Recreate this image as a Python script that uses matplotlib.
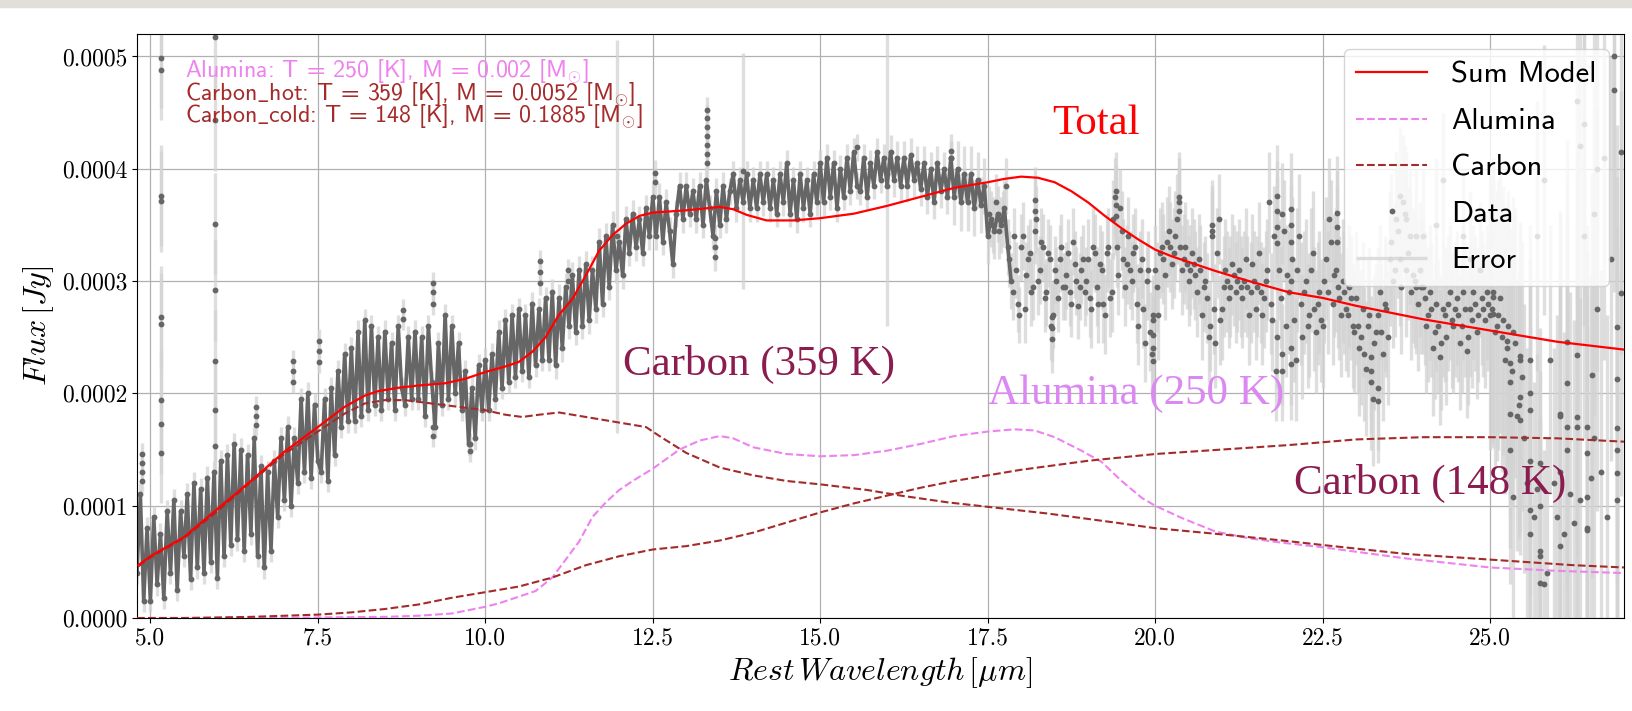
import numpy as np
import matplotlib
matplotlib.use("Agg")
import matplotlib.pyplot as plt
from matplotlib.ticker import FormatStrFormatter, MultipleLocator
from matplotlib.patches import Rectangle

plt.rcParams['mathtext.fontset'] = 'cm'
plt.rcParams['font.family'] = 'cmr10'
plt.rcParams['axes.formatter.use_mathtext'] = True

SCALE = 1e-4  # all flux lists below are in units of 1e-4 Jy

# --- observed spectrum, sampled every 0.05 um starting at 4.80 um ---
wave_start, wave_step = 4.80, 0.05
flux_rows = [
    [0.40, 1.10, 0.15, 0.80],
    [0.15, 0.90, 0.30, 0.75, 0.18, 0.95, 0.40, 1.05, 0.25, 0.95, 0.55, 1.10, 0.35, 1.20, 0.45, 1.15, 0.40, 1.25, 0.50, 1.30],
    [0.36, 1.40, 0.55, 1.45, 0.65, 1.55, 0.70, 1.50, 0.60, 1.45, 0.75, 1.60, 0.55, 1.35, 0.45, 1.30, 0.60, 1.40, 0.90, 1.60],
    [1.05, 1.70, 1.00, 1.60, 1.20, 1.95, 1.30, 2.00, 1.25, 1.90, 1.40, 1.30, 1.95, 1.22, 2.05, 1.45, 2.20, 1.70, 2.35, 1.75],
    [2.40, 1.75, 2.55, 1.80, 2.65, 1.85, 2.60, 1.90, 2.50, 1.85, 2.55, 1.95, 2.45, 1.85, 2.60, 2.05, 1.90, 2.50, 1.95, 2.55],
    [1.95, 2.50, 1.80, 2.60, 2.10, 1.70, 2.45, 1.90, 2.70, 1.95, 2.60, 2.00, 2.45, 1.85, 2.20, 1.55, 2.05, 1.60, 2.25, 1.85],
    [2.30, 1.85, 2.35, 1.95, 2.55, 2.05, 2.65, 2.10, 2.70, 2.15, 2.75, 2.20, 2.70, 2.15, 2.80, 2.25, 2.75, 2.30, 2.85, 2.30],
    [2.90, 2.25, 2.85, 2.40, 2.95, 2.60, 3.05, 2.55, 3.10, 2.60, 3.15, 2.65, 3.10, 2.75, 3.35, 2.80, 3.40, 2.95, 3.50, 3.10],
    [3.35, 3.05, 3.55, 3.25, 3.60, 3.30, 3.55, 3.25, 3.65, 3.40, 3.75, 3.40, 3.75, 3.35, 3.70, 3.45, 3.15, 3.60, 3.85, 3.55],
    [3.85, 3.60, 3.80, 3.55, 3.85, 3.50, 3.90, 3.65, 3.40, 3.80, 3.50, 3.85, 3.55, 3.80, 3.95, 3.65, 3.90, 3.70, 3.95, 3.65],
    [3.90, 3.65, 3.95, 3.70, 3.95, 3.65, 3.90, 3.60, 3.95, 3.70, 4.05, 3.60, 3.90, 3.55, 3.95, 3.65, 3.90, 3.60, 3.95, 3.70],
    [4.05, 3.70, 4.10, 3.75, 4.05, 3.65, 4.00, 3.75, 4.10, 3.80, 4.15, 3.85, 3.80, 4.10, 3.75, 4.05, 3.85, 4.15, 3.90, 4.10],
    [3.85, 4.15, 3.90, 4.10, 3.85, 4.10, 3.85, 4.12, 3.90, 4.05, 3.82, 4.05, 3.75, 4.00, 3.70, 4.05, 3.80, 4.00, 3.75, 4.10],
    [3.75, 4.00, 3.70, 3.95, 3.70, 3.95, 3.65, 3.90, 3.68, 3.85, 3.40, 3.55, 3.45, 3.60, 3.50, 3.65, 3.30, 3.00, 3.40, 2.80],
    [3.30, 2.75, 3.20, 2.90, 3.45, 3.00, 3.35, 2.85, 3.25, 2.60, 3.10, 2.85, 3.30, 2.95, 3.25, 2.80, 3.15, 2.78, 3.10, 2.90],
    [3.20, 2.75, 3.25, 2.80, 3.10, 2.70, 3.30, 2.90, 3.75, 3.05, 3.45, 2.95, 3.40, 3.00, 3.30, 2.60, 3.20, 2.45, 3.10, 2.35],
    [3.10, 2.70, 3.30, 3.05, 3.45, 3.15, 3.40, 3.70, 3.10, 3.30, 3.00, 3.25, 3.05, 3.20, 2.70, 3.00, 2.50, 3.45, 2.45, 3.55],
    [2.75, 3.10, 2.85, 3.15, 2.90, 3.10, 2.85, 3.20, 2.70, 3.15, 2.75, 3.25, 2.70, 3.00, 3.70, 2.65, 2.20, 3.10, 3.60, 2.60],
    [2.90, 3.20, 2.30, 3.40, 2.50, 3.00, 2.70, 3.25, 2.55, 2.90, 2.60, 3.20, 3.55, 2.80, 3.10, 2.85, 3.00, 2.75, 2.95, 2.60],
    [2.85, 2.40, 2.75, 2.22, 2.70, 1.95, 2.55, 2.90, 2.35, 2.75, 3.20, 3.00, 3.55, 3.20, 3.70, 3.10, 3.40, 3.05, 2.95, 3.10],
    [2.95, 2.60, 2.90, 2.40, 2.80, 2.32, 2.75, 2.50, 2.90, 2.60, 2.85, 2.45, 2.90, 2.38, 2.75, 2.90, 2.55, 3.10, 2.75, 2.90],
    [2.70, 2.90, 2.60, 2.85, 2.65, 2.40, 2.10, 2.55, 1.80, 2.30, 1.60, 1.20, 2.00, 0.90, 1.15, 0.55, 0.30, 0.40, 2.30, 1.20],
    [0.90, 1.80, 0.75, 1.50, 1.10, 0.85, 1.70, 1.05, 4.40, 0.80, 1.25, 1.60, 2.75, 1.30, 4.10, 0.90, 3.20, 5.00, 1.50, 4.15],
]

# second detector channel on the long side, offset by half a step (17.525 um ...)
wave_start_b = 17.525
flux_rows_b = [
    [3.60, 3.50, 3.70, 3.45, 3.55, 3.85, 3.20, 2.90, 3.10, 2.70, 3.40, 3.05, 3.25, 2.95, 3.55, 3.10, 3.30, 2.90, 3.20, 2.70],
    [3.00, 3.20, 2.95, 3.05, 2.90, 3.35, 3.00, 2.95, 3.20, 3.00, 2.85, 3.30, 2.95, 3.15, 2.80, 3.25, 2.85, 3.55, 3.30, 3.65],
    [3.20, 3.15, 3.10, 3.25, 2.80, 3.10, 2.75, 3.00, 2.55, 2.70, 2.95, 3.25, 3.20, 3.35, 3.30, 3.25, 3.55, 3.30, 3.20, 3.15],
    [3.10, 3.15, 2.90, 3.10, 2.95, 2.85, 2.60, 2.75, 3.25, 2.65, 2.95, 3.00, 2.95, 3.05, 3.00, 2.95, 3.00, 2.95, 2.90, 3.00],
    [2.95, 2.90, 2.85, 3.10, 2.80, 3.40, 2.50, 2.85, 3.45, 3.05, 3.00, 2.65, 3.10, 2.80, 2.90, 2.60, 3.10, 2.75, 2.80, 2.65],
    [3.00, 2.90, 3.35, 3.05, 2.95, 2.70, 2.90, 2.70, 2.85, 2.55, 2.60, 2.50, 2.35, 2.60, 2.10, 2.45, 2.70, 2.55, 2.80, 2.50],
    [3.35, 3.10, 3.45, 2.95, 3.60, 3.25, 2.90, 3.00, 2.80, 2.95, 2.85, 2.70, 2.75, 2.55, 2.60, 2.45, 2.70, 2.80, 2.65, 2.75],
    [2.70, 2.60, 2.75, 2.50, 2.65, 2.80, 2.70, 2.85, 2.65, 2.80, 2.75, 2.55, 2.70, 2.50, 2.30, 2.60, 2.20, 2.45, 1.90, 2.15],
]

# 1-sigma error per whole micron (4 um, 5 um, ... 26 um)
err_per_um = [0.10, 0.10, 0.10, 0.10, 0.10, 0.10, 0.10, 0.12, 0.12, 0.12, 0.12, 0.12,
              0.15, 0.25, 0.30, 0.35, 0.40, 0.45, 0.55, 0.60, 0.60, 1.20, 1.80]

# extra samples: spikes, stacked columns and the noisy red end
extra_wave = [4.87, 4.87, 4.87, 4.87,
              5.16, 5.16, 5.16, 5.16, 5.16, 5.16, 5.16, 5.16, 5.16,
              5.96, 5.96, 5.96, 5.96, 5.96, 5.96, 5.96,
              6.57, 6.57, 6.57, 7.13, 7.13, 7.13, 7.52, 7.52, 7.52, 8.77, 8.77,
              9.22, 9.22, 9.22, 9.22, 9.22, 9.77, 9.77, 10.82, 10.82, 10.82, 11.24, 11.24,
              11.96, 12.53, 12.53,
              13.31, 13.31, 13.31, 13.31, 13.31, 13.31, 13.31, 13.43, 13.43, 13.43,
              13.85, 15.55, 16.00, 16.95, 16.95,
              18.21, 18.21, 18.46, 18.46, 18.46, 19.42, 19.42, 19.42, 19.97, 19.97, 19.97, 19.97,
              20.35, 20.35, 20.85, 20.85, 21.82, 21.82, 21.82, 21.82, 21.89, 21.89,
              22.03, 22.03, 22.03, 22.03, 22.03, 22.71, 22.71, 22.71, 23.23, 23.23, 23.33, 23.33,
              23.65, 23.75, 23.90, 24.00, 24.20, 24.30, 24.60, 24.70,
              25.05, 25.05, 25.25, 25.30, 25.30, 25.30, 25.35, 25.45, 25.45, 25.45,
              25.60, 25.60, 25.60, 25.60, 25.60, 25.70, 25.75, 25.75, 25.75, 25.75, 25.80,
              26.05, 26.05, 26.05, 26.15, 26.15, 26.15, 26.30, 26.30, 26.30, 26.35, 26.40,
              26.45, 26.45, 26.45, 26.45, 26.52, 26.55, 26.60, 26.85,
              26.90, 26.90, 26.90, 26.90, 26.90, 26.95]
extra_flux = [1.46, 1.38, 1.30, 1.22,
              4.99, 4.88, 3.76, 3.71, 2.68, 2.62, 1.94, 1.73, 1.47,
              5.17, 4.43, 3.51, 2.92, 2.29, 1.85, 1.53,
              1.88, 1.80, 1.72, 2.29, 2.20, 2.10, 2.47, 2.38, 2.28, 2.74, 2.66,
              2.98, 2.90, 2.80, 1.70, 1.62, 1.55, 1.49, 3.18, 3.08, 2.98, 3.10, 3.00,
              3.40, 3.96, 3.88,
              4.52, 4.45, 4.37, 4.29, 4.21, 4.13, 4.05, 3.21, 3.30, 3.38,
              3.98, 4.19, 3.95, 4.16, 4.10,
              3.72, 3.62, 2.48, 2.58, 2.68, 3.80, 3.68, 3.58, 2.29, 2.40, 2.52, 2.65,
              3.75, 3.62, 3.50, 3.40, 3.76, 3.62, 3.48, 3.34, 2.20, 2.35,
              3.64, 3.50, 3.35, 2.26, 2.40, 3.61, 3.48, 3.35, 2.20, 2.32, 1.93, 2.05,
              3.76, 3.55, 3.40, 3.40, 3.50, 3.90, 3.40, 3.20,
              2.86, 2.71, 2.47, 2.27, 1.82, 1.50, 1.08, 2.33, 1.97, 1.76,
              2.30, 1.85, 1.40, 0.96, 0.75, 3.40, 1.38, 1.00, 0.60, 0.31, 3.90,
              1.82, 1.30, 0.64, 2.46, 2.09, 1.70, 4.60, 2.34, 1.79, 4.20, 3.40,
              1.70, 1.47, 1.08, 0.78, 2.16, 3.60, 4.00, 4.70,
              2.59, 2.13, 1.69, 1.29, 1.05, 2.89]
extra_err = [0.10] * 4 + [0.45] * 9 + [0.45] * 7 + [0.10] * 23 + [1.75, 0.12, 0.12] + [0.12] * 10 \
    + [1.05, 0.12, 1.35, 0.15, 0.15] + [0.30] * 5 + [0.35] * 7 + [0.40] * 4 + [0.45] * 6 \
    + [0.50] * 8 + [0.55] * 4 + [0.60] * 8 + [1.20] * 21 + [1.80] * 25

# --- model components on their own wavelength grids ---
sum_wave = [4.82, 5.0, 5.5, 6.0, 6.5, 7.0, 7.5, 7.9, 8.2, 8.4, 8.7, 9.0, 9.4, 9.7, 10.0, 10.3,
            10.5, 10.7, 10.9, 11.1, 11.3, 11.5, 11.7, 11.9, 12.1, 12.3, 12.5, 13.0, 13.5, 13.7,
            13.9, 14.2, 14.6, 15.0, 15.5, 16.0, 16.5, 17.0, 17.5, 17.75, 18.0, 18.25, 18.5, 18.75,
            19.0, 19.25, 19.5, 19.75, 20.0, 20.25, 20.5, 20.9, 21.4, 22.0, 22.5, 23.0, 24.0, 25.0,
            26.0, 27.0]
sum_flux = [0.47, 0.55, 0.72, 0.97, 1.22, 1.48, 1.70, 1.88, 1.98, 2.02, 2.05, 2.07, 2.09, 2.13, 2.19, 2.24,
            2.28, 2.37, 2.50, 2.70, 2.84, 3.05, 3.27, 3.41, 3.51, 3.58, 3.61, 3.63, 3.66, 3.64,
            3.59, 3.54, 3.54, 3.56, 3.60, 3.67, 3.75, 3.83, 3.88, 3.91, 3.93, 3.92, 3.88, 3.80,
            3.70, 3.58, 3.47, 3.37, 3.28, 3.22, 3.17, 3.09, 3.00, 2.90, 2.85, 2.78, 2.66, 2.56,
            2.46, 2.39]

alumina_wave = [4.8, 7.0, 7.5, 8.5, 9.0, 9.5, 9.75, 10.0, 10.2, 10.5, 10.75, 11.0, 11.2, 11.4, 11.6,
                11.8, 12.0, 12.2, 12.5, 12.9, 13.2, 13.5, 13.7, 14.0, 14.5, 15.0, 15.5, 16.0, 16.5,
                17.0, 17.5, 17.9, 18.2, 18.5, 18.9, 19.2, 19.5, 19.8, 20.0, 20.4, 20.9, 21.4, 21.9,
                22.5, 23.75, 25.0, 26.0, 27.0]
alumina_flux = [0.0, 0.0, 0.005, 0.01, 0.02, 0.04, 0.07, 0.10, 0.13, 0.19, 0.24, 0.36, 0.52, 0.68, 0.90,
                1.03, 1.14, 1.22, 1.33, 1.50, 1.58, 1.62, 1.60, 1.52, 1.46, 1.44, 1.45, 1.49, 1.55,
                1.62, 1.66, 1.68, 1.67, 1.61, 1.49, 1.39, 1.22, 1.07, 1.00, 0.89, 0.77, 0.71, 0.67,
                0.63, 0.53, 0.45, 0.42, 0.40]

carbon_hot_wave = [4.82, 5.0, 5.5, 6.0, 6.5, 7.0, 7.5, 7.9, 8.2, 8.5, 8.8, 9.2, 9.6, 10.0, 10.3,
                   10.55, 10.8, 11.1, 11.4, 11.7, 12.0, 12.4, 12.6, 13.0, 13.5, 14.0, 14.5, 15.0,
                   15.7, 16.2, 16.9, 17.5, 18.4, 19.4, 20.0, 20.9, 21.9, 22.5, 23.75, 25.0, 26.25, 27.0]
carbon_hot_flux = [0.46, 0.54, 0.71, 0.95, 1.21, 1.46, 1.66, 1.82, 1.91, 1.94, 1.94, 1.91, 1.88, 1.85, 1.81,
                   1.79, 1.81, 1.83, 1.80, 1.77, 1.74, 1.70, 1.62, 1.47, 1.34, 1.27, 1.22, 1.19,
                   1.14, 1.09, 1.03, 0.99, 0.93, 0.85, 0.80, 0.75, 0.69, 0.65, 0.57, 0.52, 0.47, 0.45]

carbon_cold_wave = [4.8, 5.5, 6.0, 6.5, 7.0, 7.5, 8.0, 8.5, 9.0, 9.5, 10.0, 10.5, 11.0, 11.5, 12.0,
                    12.5, 13.0, 13.5, 14.0, 14.5, 15.0, 15.5, 16.0, 16.5, 17.0, 17.5, 18.0, 18.5,
                    19.0, 19.5, 20.0, 21.0, 22.0, 23.0, 24.0, 25.0, 26.0, 27.0]
carbon_cold_flux = [0.0, 0.0, 0.005, 0.01, 0.02, 0.03, 0.05, 0.08, 0.12, 0.18, 0.23, 0.28, 0.36, 0.47, 0.55,
                    0.61, 0.64, 0.69, 0.76, 0.85, 0.94, 1.02, 1.09, 1.16, 1.22, 1.27, 1.32, 1.36,
                    1.40, 1.43, 1.46, 1.50, 1.54, 1.59, 1.61, 1.61, 1.60, 1.57]

# ------------------------------------------------------------------
flux = np.concatenate([np.array(r) for r in flux_rows])
wave = wave_start + wave_step * np.arange(len(flux))
flux_b = np.concatenate([np.array(r) for r in flux_rows_b])
wave_b = wave_start_b + wave_step * np.arange(len(flux_b))

all_wave = np.concatenate([wave, wave_b, extra_wave])
all_flux = np.concatenate([flux, flux_b, extra_flux])
grid_err = np.array(err_per_um)[np.floor(np.concatenate([wave, wave_b])).astype(int) - 4]
all_err = np.concatenate([grid_err, extra_err])

fig = plt.figure(figsize=(16.32, 7.11), dpi=100)
fig.add_artist(Rectangle((0, 1 - 7 / 711), 1, 7 / 711, transform=fig.transFigure,
                         color='#e2dfdb', zorder=0))
ax = fig.add_axes([137 / 1632, 1 - 618 / 711, 1487 / 1632, 584 / 711])

ax.vlines(all_wave, (all_flux - all_err) * SCALE, (all_flux + all_err) * SCALE,
          color='lightgray', lw=2.4, alpha=0.75, zorder=1, label='Error')

# short-wavelength part is densely sampled: join the samples so it reads as a band
dense = wave < 17.9
ax.plot(wave[dense], flux[dense] * SCALE, '-', color='#666666', lw=2.6, zorder=2)
ax.plot(all_wave, all_flux * SCALE, 'o', color='#666666', ms=4.2, mew=0, zorder=2, label='Data')

ax.plot(sum_wave, np.array(sum_flux) * SCALE, '-', color='red', lw=1.6, zorder=4, label='Sum Model')
ax.plot(alumina_wave, np.array(alumina_flux) * SCALE, '--', color='violet', lw=1.5, zorder=3, label='Alumina')
ax.plot(carbon_hot_wave, np.array(carbon_hot_flux) * SCALE, '--', color='brown', lw=1.5, zorder=3, label='Carbon')
ax.plot(carbon_cold_wave, np.array(carbon_cold_flux) * SCALE, '--', color='brown', lw=1.5, zorder=3)

ax.set_xlim(4.8, 27.0)
ax.set_ylim(0, 0.00052)
ax.xaxis.set_major_locator(MultipleLocator(2.5))
ax.xaxis.set_major_formatter(FormatStrFormatter('%.1f'))
ax.yaxis.set_major_locator(MultipleLocator(0.0001))
ax.yaxis.set_major_formatter(FormatStrFormatter('%.4f'))
ax.tick_params(labelsize=17)
ax.grid(True, color='#b0b0b0', lw=0.9)
ax.set_axisbelow(True)

ax.set_xlabel(r'$Rest\,Wavelength\,[\mu m]$', fontsize=23)
ax.set_ylabel(r'$Flux\,[Jy]$', fontsize=23)

# fit summary in the upper left
sans = {'family': 'cmss10', 'size': 17.2}
ax.text(0.0323, 0.937, r'Alumina: T = 250 [K], M = 0.002 [M$_{\odot}$]', color='violet',
        transform=ax.transAxes, va='center', fontdict=sans)
ax.text(0.0323, 0.898, r'Carbon$\_$hot: T = 359 [K], M = 0.0052 [M$_{\odot}$]', color='brown',
        transform=ax.transAxes, va='center', fontdict=sans)
ax.text(0.0323, 0.859, r'Carbon$\_$cold: T = 148 [K], M = 0.1885 [M$_{\odot}$]', color='brown',
        transform=ax.transAxes, va='center', fontdict=sans)

serif = {'family': 'Liberation Serif', 'size': 31}
ax.text(19.12, 4.40 * SCALE, 'Total', color='red', ha='center', va='center', fontdict=serif)
ax.text(14.08, 2.26 * SCALE, 'Carbon (359 K)', color='#8b1c4f', ha='center', va='center', fontdict=serif)
ax.text(19.71, 2.00 * SCALE, 'Alumina (250 K)', color='#dc88f2', ha='center', va='center', fontdict=serif)
ax.text(24.10, 1.20 * SCALE, 'Carbon (148 K)', color='#8b1c4f', ha='center', va='center', fontdict=serif)

h, l = ax.get_legend_handles_labels()
order = [l.index(n) for n in ['Sum Model', 'Alumina', 'Carbon', 'Data', 'Error']]
ax.legend([h[i] for i in order], [l[i] for i in order], loc='upper right',
          prop={'family': 'cmss10', 'size': 22}, handlelength=2.3, labelspacing=0.62)

fig.savefig('out.png', dpi=100)
